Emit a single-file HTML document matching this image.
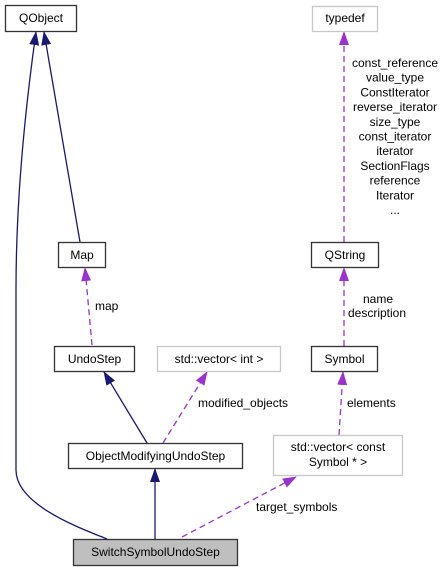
<!DOCTYPE html>
<html><head><meta charset="utf-8"><style>
html,body{margin:0;padding:0;background:#fff;}
svg{display:block;}
text{font-family:"Liberation Sans",Helvetica,Arial,sans-serif;font-size:12px;fill:#000;}
</style></head><body>
<svg width="447" height="571" viewBox="0 0 447 571" xmlns="http://www.w3.org/2000/svg">
<defs>
<marker id="nb" markerWidth="14" markerHeight="12" refX="13" refY="6" orient="auto" markerUnits="userSpaceOnUse"><path d="M0,1 L14,6 L0,11 Z" fill="#191970"/></marker>
<marker id="pb" markerWidth="14" markerHeight="12" refX="13" refY="6" orient="auto" markerUnits="userSpaceOnUse"><path d="M0,1 L14,6 L0,11 Z" fill="#9a32cd"/></marker>
</defs>
<g fill="none" stroke-width="1.3">
<path d="M107,539 C80,528 16,505 16,470 L16,290 C16,200 25,110 36,32" stroke="#191970" marker-end="url(#nb)"/>
<path d="M80,242 L44,32" stroke="#191970" marker-end="url(#nb)"/>
<path d="M147,443 L104,372" stroke="#191970" marker-end="url(#nb)"/>
<path d="M155,539 L155,469" stroke="#191970" marker-end="url(#nb)"/>
<g stroke="#9a32cd" stroke-dasharray="6,4">
<path d="M92,345 L85,268" marker-end="url(#pb)"/>
<path d="M344,242 L344,32" marker-end="url(#pb)"/>
<path d="M344,346 L344,268" marker-end="url(#pb)"/>
<path d="M163,443 L207,372" marker-end="url(#pb)"/>
<path d="M339,435 L343,372" marker-end="url(#pb)"/>
<path d="M182,537 L296,477" marker-end="url(#pb)"/>
</g>
</g>
<g stroke-width="1.3">
<rect x="5.5" y="5.5" width="71" height="26" fill="#fff" stroke="#333"/>
<rect x="312.5" y="6.5" width="65" height="25" fill="#fff" stroke="#c8c8c8"/>
<rect x="58.5" y="242.5" width="47" height="25" fill="#fff" stroke="#333"/>
<rect x="311.5" y="242.5" width="67" height="25" fill="#fff" stroke="#333"/>
<rect x="54.5" y="346.5" width="80" height="25" fill="#fff" stroke="#333"/>
<rect x="157.5" y="346.5" width="123" height="25" fill="#fff" stroke="#c8c8c8"/>
<rect x="311.5" y="346.5" width="66" height="25" fill="#fff" stroke="#333"/>
<rect x="68.5" y="443.5" width="174" height="25" fill="#fff" stroke="#333"/>
<rect x="273.5" y="435.5" width="129" height="40" fill="#fff" stroke="#c8c8c8"/>
<rect x="73.5" y="539.5" width="164" height="26" fill="#bfbfbf" stroke="#333"/>
</g>
<g text-anchor="middle">
<text x="41" y="22">QObject</text>
<text x="345" y="22">typedef</text>
<text x="82" y="259">Map</text>
<text x="345" y="259">QString</text>
<text x="94.5" y="363">UndoStep</text>
<text x="219" y="363">std::vector&lt; int &gt;</text>
<text x="344.5" y="363">Symbol</text>
<text x="155.5" y="460">ObjectModifyingUndoStep</text>
<text x="338" y="451">std::vector&lt; const</text>
<text x="338" y="466">Symbol * &gt;</text>
<text x="155.5" y="556">SwitchSymbolUndoStep</text>
<text x="395" y="67">const_reference</text>
<text x="395" y="81.7">value_type</text>
<text x="395" y="96.4">ConstIterator</text>
<text x="395" y="111.1">reverse_iterator</text>
<text x="395" y="125.8">size_type</text>
<text x="395" y="140.5">const_iterator</text>
<text x="395" y="155.2">iterator</text>
<text x="395" y="169.9">SectionFlags</text>
<text x="395" y="184.6">reference</text>
<text x="395" y="199.3">Iterator</text>
<text x="395" y="214">...</text>
<text x="378" y="303">name</text>
<text x="377" y="317">description</text>
</g>
<text x="95" y="310">map</text>
<text x="198" y="407">modified_objects</text>
<text x="347" y="407">elements</text>
<text x="256" y="511">target_symbols</text>
</svg>
</body></html>
